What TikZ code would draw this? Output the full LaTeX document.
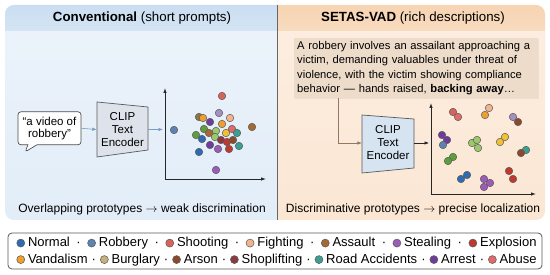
\documentclass[tikz,border=0pt]{standalone}
\usepackage{fontspec}
\setmainfont{Liberation Sans}
\usetikzlibrary{positioning,shapes.callouts,arrows.meta,shadows}

% class colours
\definecolor{cNormal}{HTML}{2E6BB0}
\definecolor{cRobbery}{HTML}{5B84B3}
\definecolor{cShooting}{HTML}{D9635A}
\definecolor{cFighting}{HTML}{F1B48C}
\definecolor{cAssault}{HTML}{A56A31}
\definecolor{cStealing}{HTML}{9B5BB6}
\definecolor{cExplosion}{HTML}{C0392F}
\definecolor{cVandalism}{HTML}{EE9F32}
\definecolor{cBurglary}{HTML}{C8B07E}
\definecolor{cArson}{HTML}{8A4B2C}
\definecolor{cShoplifting}{HTML}{8C3942}
\definecolor{cRoad}{HTML}{3B9E90}
\definecolor{cArrest}{HTML}{6E3D9C}
\definecolor{cAbuse}{HTML}{E06A6C}
\definecolor{cGreen}{HTML}{5E9E3E}
\definecolor{cLightGreen}{HTML}{9CC86C}
\definecolor{cYellow}{HTML}{F2C035}
\definecolor{cLavender}{HTML}{A290C0}
\definecolor{cOlive}{HTML}{8C7444}
% panels
\definecolor{bgHeadL}{HTML}{CBDEF1}
\definecolor{bgBodyL}{HTML}{E2EDF8}
\definecolor{bgHeadR}{HTML}{F7D4B3}
\definecolor{bgBodyR}{HTML}{FBE6D3}
\definecolor{bgDesc}{HTML}{EEDCCA}
\definecolor{encL}{HTML}{DEE3EB}
\definecolor{encR}{HTML}{D6E3F1}

\tikzset{
  proto/.style={circle, draw=black!65, line width=0.5pt, inner sep=0pt, minimum size=7.5pt},
  encoder/.style={inner sep=0pt, minimum width=51pt, align=center, font=\fontsize{11.5}{13}\selectfont},
  trap/.style={draw=black!65, line width=0.7pt},
  flow/.style={-{Latex[length=4.5pt,width=3.5pt]}, line width=0.6pt},
  axis/.style={{Latex[length=5pt,width=3.5pt]}-{Latex[length=5pt,width=3.5pt]}, line width=0.8pt, black!85},
  caption/.style={font=\fontsize{12}{14}\selectfont},
  title/.style={font=\fontsize{13.3}{16}\selectfont}
}

\newcommand{\legitem}[2]{\tikz[baseline=-0.55ex]\node[proto, minimum size=8pt, fill=#1]{};\hspace{3pt}#2}

\begin{document}
\begin{tikzpicture}[x=1pt, y=-1pt]
	\useasboundingbox (0,0) rectangle (550,275);
	\fill[white] (0,0) rectangle (550,275);

	% panels
	\begin{scope}
		\clip[rounded corners=9pt] (5,5) rectangle (545,220);
		\shade[top color=bgHeadL, bottom color=bgHeadL!60!bgBodyL] (5,5) rectangle (277,32);
		\shade[top color=bgBodyL!70!white, bottom color=bgBodyL] (5,32) rectangle (277,220);
		\shade[top color=bgHeadR, bottom color=bgHeadR!60!bgBodyR] (277,5) rectangle (545,32);
		\shade[top color=bgBodyR!70!white, bottom color=bgBodyR] (277,32) rectangle (545,220);
	\end{scope}
	\draw[black!60, line width=0.8pt] (277,5) -- (277,220);

	\node[title] (titleL) at (142,18.5) {\textbf{Conventional} (short prompts)};
	\node[title] (titleR) at (413,18.5) {\textbf{SETAS-VAD} (rich descriptions)};

	% left: short prompt
	\node[rectangle callout, draw=black!70, fill=white, line width=0.7pt, rounded corners=3pt,
		minimum width=63pt, minimum height=33pt, inner sep=1pt, align=center,
		callout absolute pointer={(25,152)}, callout pointer width=9pt,
		font=\fontsize{11.5}{11.8}\selectfont] (prompt) at (49.5,128.3) {“a video of\\robbery”};

	\draw[trap, fill=encL] (97,102) -- (148,107) -- (148,150) -- (97,157) -- cycle;
	\node[encoder, minimum height=55pt] (enc1) at (122.5,129.5) {CLIP\\Text\\Encoder};

	\coordinate (o1) at (165,179);
	\draw[axis] (165,88) |- (266,179);

	% Arrows
	\draw[flow, color=cRobbery!80] (prompt.east) -- (enc1.west);
	\draw[flow, color=cRobbery!80, shorten >=2pt] (enc1.east) -- (enc1.east -| o1);

	% overlapping prototypes
	\foreach \x/\y/\c [count=\i] in {222/96/cShooting, 199/117/cOlive, 203/118/cVandalism,
		219/113/cLavender, 230/118/cFighting, 210/122/cArrest, 222/124/cVandalism,
		252/127/cAssault, 174/130/cRobbery, 204/129/cGreen, 209/133/cAssault,
		216/131/cLightGreen, 232/129/cAbuse, 237/133/cRoad, 226/133/cYellow,
		196/135/cGreen, 202/139/cNormal, 215/137/cLightGreen, 221/140/cShoplifting,
		227/142/cExplosion, 233/140/cArson, 210/145/cArrest, 218/149/cStealing,
		229/149/cExplosion, 239/146/cRoad, 199/152/cNormal, 216/170/cStealing}
		\node[proto, fill=\c] (pl\i) at (\x,\y) {};

	\node[caption] (capL) at (142,209) {Overlapping prototypes $\rightarrow$ weak discrimination};

	% right: rich description
	\node[anchor=north west, fill=bgDesc, minimum height=59pt,
		text width=238pt, inner xsep=3pt, align=left,
		drop shadow={opacity=0.12, shadow xshift=0.8pt, shadow yshift=-1.2pt},
		font=\fontsize{11.2}{14.2}\selectfont] (desc) at (294,38)
		{A robbery involves an assailant approaching a\\victim, demanding valuables under threat of\\violence, with the victim showing compliance\\behavior — hands raised, \textbf{backing away}…};

	\draw[trap, fill=encR] (362,115) -- (414,119) -- (414,168) -- (362,173) -- cycle;
	\node[encoder, minimum height=58pt, minimum width=52pt] (enc2) at (388,143) {CLIP\\Text\\Encoder};

	\coordinate (o2) at (431,194);
	\draw[axis] (431,103) |- (536,194);

	% Arrows
	\draw[flow, color=black!50!brown!70] ([xshift=44pt]desc.south west) |- (enc2.west);
	\draw[flow, color=black!85, shorten >=2pt] (enc2.east) -- (enc2.east -| o2);

	% discriminative prototypes
	\foreach \x/\y/\c [count=\i] in {453/112/cShooting, 458/117/cAbuse,
		489/108/cFighting, 485/115/cVandalism, 513/117/cLavender, 518/122/cArson,
		442/135/cArrest, 447/140/cArrest, 443/145/cRobbery,
		472/143/cLightGreen, 477/140/cLightGreen, 478/148/cLightGreen,
		500/142/cYellow, 505/137/cYellow, 526/150/cRoad, 521/153/cArson,
		453/157/cGreen, 448/161/cGreen, 467/175/cNormal, 461/179/cNormal,
		484/179/cStealing, 490/183/cStealing, 484/187/cStealing,
		509/171/cExplosion, 513/179/cExplosion}
		\node[proto, fill=\c] (pr\i) at (\x,\y) {};

	\node[caption] (capR) at (413,209) {Discriminative prototypes $\rightarrow$ precise localization};

	% legend
	\node[draw=black!65, fill=white, line width=0.8pt, rounded corners=4pt,
		minimum width=534pt, minimum height=36pt] (legend) at (275,251) {};
	\node[font=\fontsize{13}{15}\selectfont, inner sep=0pt] (row1) at (276.5,243.5) {\hbox to 520pt{%
		\legitem{cNormal}{Normal}\hfil·\hfil\legitem{cRobbery}{Robbery}\hfil·\hfil
		\legitem{cShooting}{Shooting}\hfil·\hfil\legitem{cFighting}{Fighting}\hfil·\hfil
		\legitem{cAssault}{Assault}\hfil·\hfil\legitem{cStealing}{Stealing}\hfil·\hfil
		\legitem{cExplosion}{Explosion}}};
	\node[font=\fontsize{13}{15}\selectfont, inner sep=0pt] (row2) at (276.5,260) {\hbox to 520pt{%
		\legitem{cVandalism}{Vandalism}\hfil·\hfil\legitem{cBurglary}{Burglary}\hfil·\hfil
		\legitem{cArson}{Arson}\hfil·\hfil\legitem{cShoplifting}{Shoplifting}\hfil·\hfil
		\legitem{cRoad}{Road Accidents}\hfil·\hfil\legitem{cArrest}{Arrest}\hfil·\hfil
		\legitem{cAbuse}{Abuse}}};
\end{tikzpicture}
\end{document}
